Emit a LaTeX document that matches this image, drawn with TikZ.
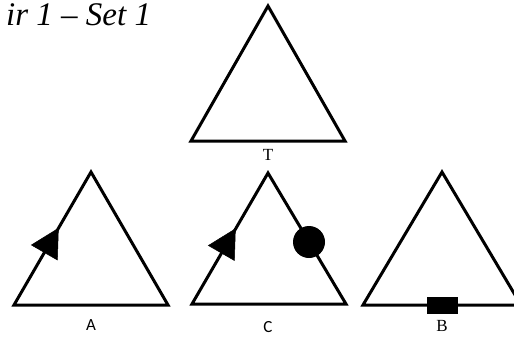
\documentclass[tikz,border=0pt]{standalone}
\usepackage{fontspec}
\setmainfont{Liberation Serif}
\newfontfamily\calfont{Carlito}
\tikzset{
  edge/.style={line width=3pt, line join=miter, black},
  mark fill/.style={fill=black, draw=black, line width=0.5pt},
  serlabel/.style={font=\fontsize{17}{19}\selectfont, inner sep=0pt},
  sanlabel/.style={font=\calfont\fontsize{17}{19}\selectfont, inner sep=0pt},
}
\begin{document}
\begin{tikzpicture}[x=1pt,y=-1pt]
\useasboundingbox (0,0) rectangle (514,340);
% title
\node[anchor=base west, inner sep=0pt, font=\itshape\fontsize{33}{38}\selectfont] (title) at (6,25) {ir 1 – Set 1};
% top triangle T
\coordinate (T1) at (268,6);
\coordinate (T2) at (191,141);
\coordinate (T3) at (345,141);
\draw[edge] (T1) -- (T2) -- (T3) -- cycle;
\node[serlabel] (lT) at (268,155) {T};
% triangle A
\coordinate (A1) at (91,172);
\coordinate (A2) at (14,305);
\coordinate (A3) at (168,305);
\draw[edge] (A1) -- (A2) -- (A3) -- cycle;
\coordinate (Atip) at (58.4,228.3);
\coordinate (Ab1) at (31.4,245);
\coordinate (Ab2) at (57.4,260);
\fill[mark fill] (Atip) -- (Ab1) -- (Ab2) -- cycle;
\node[sanlabel] (lA) at (91,325) {A};
% triangle C
\coordinate (C1) at (268,173);
\coordinate (C2) at (192,304);
\coordinate (C3) at (346,304);
\draw[edge] (C1) -- (C2) -- (C3) -- cycle;
\coordinate (Ctip) at (235.4,228.8);
\coordinate (Cb1) at (208.4,245.5);
\coordinate (Cb2) at (234.4,260.5);
\fill[mark fill] (Ctip) -- (Cb1) -- (Cb2) -- cycle;
\fill[black] (309,242) circle (16);
\node[sanlabel] (lC) at (268,327) {C};
% triangle B
\coordinate (B1) at (442,172);
\coordinate (B2) at (363,305);
\coordinate (B3) at (521,305);
\draw[edge] (B1) -- (B2) -- (B3) -- cycle;
\fill[black] (427,297) rectangle (458,314);
\node[serlabel] (lB) at (442,326) {B};
\end{tikzpicture}
\end{document}
